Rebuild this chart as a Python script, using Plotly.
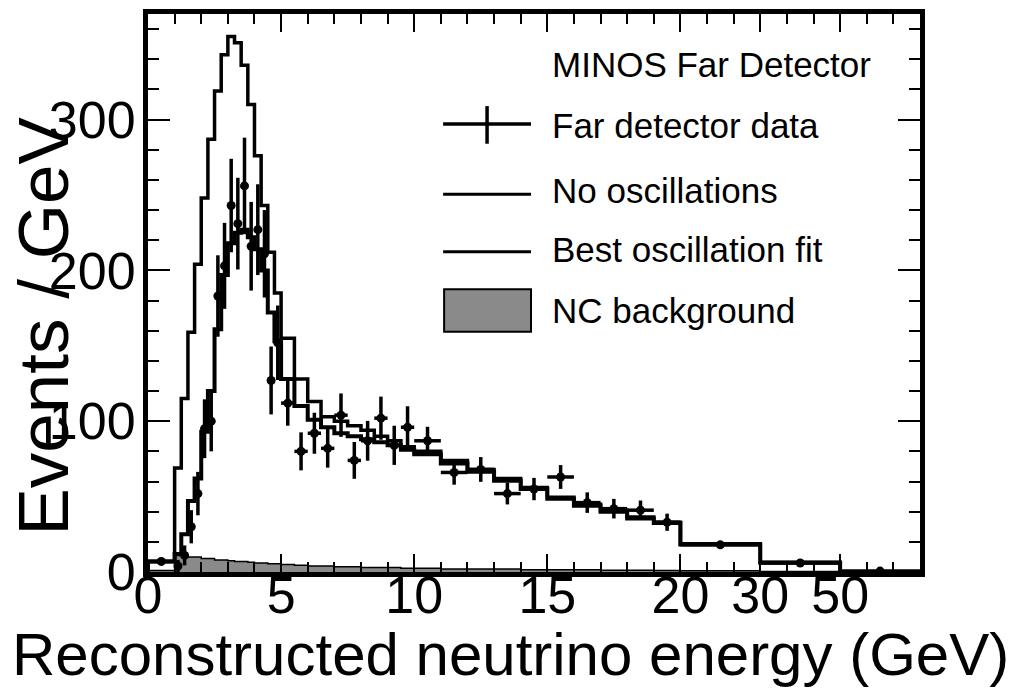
import numpy as np
import plotly.graph_objects as go

# ---------------- data ----------------
# histogram bin edges in GeV
bin_edges = [0.0, 1.0,
             1.25, 1.5, 1.75, 2.0, 2.25, 2.5, 2.75, 3.0, 3.25, 3.5, 3.75, 4.0,
             4.25, 4.5, 4.75, 5.0,
             5.5, 6.0, 6.5, 7.0, 7.5, 8.0, 8.5, 9.0, 9.5, 10.0,
             11.0, 12.0, 13.0, 14.0, 15.0, 16.0, 17.0, 18.0, 19.0, 20.0,
             30.0, 50.0]

# expected spectrum, no oscillations (events / GeV)
no_osc = [7, 69, 115, 159, 204, 248, 287, 319, 343, 355, 351, 336, 310,
          276, 243, 212, 185,
          155, 128, 113, 103, 100, 97, 94, 90, 87, 83,
          80, 74, 68, 62, 56, 49.5, 45, 41, 36.5, 33,
          18.7, 6.4]

# best oscillation fit (events / GeV)
best_fit = [7, 12, 25, 47, 62, 93, 120, 161, 197, 218, 225, 227, 222,
            214, 200, 172, 153,
            128, 110, 101, 96, 92, 90, 88, 86, 84, 81,
            78, 72, 66.5, 60.5, 55, 48.5, 44, 40, 35.5, 32.5,
            18.2, 6.2]

# NC background (events / GeV)
nc_background = [1, 11, 11, 10, 10, 9, 9, 8, 8, 7.5, 7, 7, 6.5,
                 6, 6, 5.5, 5.5,
                 5, 4.5, 4, 4, 3.5, 3.5, 3, 3, 3, 2.5,
                 2.5, 2, 2, 2, 1.5, 1.5, 1.5, 1.2, 1.2, 1.0,
                 0.8, 0.4]

# far detector data: bins (GeV) incl. overflow, values and errors (events / GeV)
data_lo = bin_edges[:-1] + [50.0]
data_hi = bin_edges[1:] + [100.0]
data_val = [7, 4, 11, 30, 52, 95, 100, 183, 203, 243, 231, 256, 216,
            227, 211, 127, 152,
            112, 80, 92, 82, 104, 74, 87, 102, 84, 96,
            87, 66, 68, 52, 55, 63, 46, 42, 41, 33,
            18, 6, 0.6]
data_err = [2.6, 4, 6.6, 11, 14.4, 19.5, 20, 27, 28.5, 31, 30.4, 32, 29.4,
            30.1, 29, 22.5, 24.7,
            15, 12.6, 13.6, 12.8, 14.4, 12.2, 13.2, 14.3, 13, 13.9,
            9.3, 8.1, 8.2, 7.2, 7.4, 7.9, 6.8, 6.5, 6.4, 5.7,
            1.3, 0.55, 0]

# axis: linear to 20 GeV, then compressed segments
axis_knots_gev = [0, 20, 30, 50, 100]
axis_knots_pos = [0, 20, 23, 26, 29]
tick_labels = ["0", "5", "10", "15", "20", "30", "50"]
tick_gev = [0, 5, 10, 15, 20, 30, 50]
y_tick_vals = [0, 100, 200, 300]


def to_axis(e):
    return np.interp(np.asarray(e, dtype=float), axis_knots_gev, axis_knots_pos)


FONT = "Liberation Sans, Arial, Helvetica, sans-serif"

edges_ax = to_axis(bin_edges)


def step_xy(values):
    xs = np.concatenate([[edges_ax[0]], edges_ax])
    ys = np.concatenate([[0.0], np.asarray(values, float), [0.0]])
    return xs, ys


fig = go.Figure()

# NC background (shaded)
xs, ys = step_xy(nc_background)
fig.add_trace(go.Scatter(x=xs, y=ys, mode="lines", line_shape="hv",
                         line=dict(color="black", width=1.5),
                         fill="tozeroy", fillcolor="#8a8a8a",
                         name="NC background", showlegend=False,
                         hoverinfo="skip"))

# No oscillations
xs, ys = step_xy(no_osc)
fig.add_trace(go.Scatter(x=xs, y=ys, mode="lines", line_shape="hv",
                         line=dict(color="black", width=3.5),
                         name="No oscillations", showlegend=False))

# Best oscillation fit
xs, ys = step_xy(best_fit)
fig.add_trace(go.Scatter(x=xs, y=ys, mode="lines", line_shape="hv",
                         line=dict(color="black", width=4),
                         name="Best oscillation fit", showlegend=False))

# data
lo_ax = to_axis(data_lo)
hi_ax = to_axis(data_hi)
fig.add_trace(go.Scatter(
    x=(lo_ax + hi_ax) / 2, y=data_val, mode="markers",
    marker=dict(color="black", size=9, symbol="circle"),
    error_y=dict(type="data", array=data_err, color="black", thickness=3.5, width=0),
    error_x=dict(type="data", array=(hi_ax - lo_ax) / 2, color="black", thickness=3.5, width=0),
    name="Far detector data", showlegend=False))

fig.update_xaxes(
    range=[0, 29], showgrid=False, zeroline=False,
    showline=True, linecolor="black", linewidth=5, mirror="allticks",
    ticks="inside", ticklen=18, tickwidth=2, tickcolor="black",
    tickmode="array", tickvals=to_axis(tick_gev), ticktext=tick_labels,
    tickfont=dict(family=FONT, size=52, color="black"),
    ticklabelstandoff=-26,
    minor=dict(ticks="inside", ticklen=10, tickwidth=2, tickcolor="black",
               dtick=1, tick0=0, showgrid=False),
)
fig.update_yaxes(
    range=[0, 370], showgrid=False, zeroline=False,
    showline=True, linecolor="black", linewidth=5, mirror="allticks",
    ticks="inside", ticklen=22, tickwidth=2, tickcolor="black",
    tickmode="array", tickvals=y_tick_vals, ticktext=[str(v) for v in y_tick_vals],
    tickfont=dict(family=FONT, size=52, color="black"),
    ticklabelstandoff=-3,
    minor=dict(ticks="inside", ticklen=11, tickwidth=2, tickcolor="black",
               dtick=20, tick0=0, showgrid=False),
)

# page-pixel helpers for titles and legend (layout decoration only)
L, R, T, B = 147.5, 920.5, 9.0, 572.5


def xp(px):
    return (px - L) / (R - L)


def yp(py):
    return (B - py) / (B - T)


annotations = [
    dict(text="Reconstructed neutrino energy (GeV)", x=xp(510), y=yp(656),
         xref="paper", yref="paper", showarrow=False, xanchor="center", yanchor="middle",
         font=dict(family=FONT, size=60, color="black")),
    dict(text="Events / GeV", x=xp(43), y=yp(324),
         xref="paper", yref="paper", showarrow=False, xanchor="center", yanchor="middle",
         textangle=-90, font=dict(family=FONT, size=71, color="black")),
]

legend_rows = [("MINOS Far Detector", 60), ("Far detector data", 122),
               ("No oscillations", 187), ("Best oscillation fit", 247),
               ("NC background", 308)]
for txt, py in legend_rows:
    annotations.append(dict(text=txt, x=xp(550), y=yp(py), xref="paper", yref="paper",
                            showarrow=False, xanchor="left", yanchor="middle",
                            font=dict(family=FONT, size=35, color="black")))

shapes = [
    # data sample: horizontal line + vertical error bar
    dict(type="line", xref="paper", yref="paper", x0=xp(443), x1=xp(531), y0=yp(120), y1=yp(120),
         line=dict(color="black", width=3.5)),
    dict(type="line", xref="paper", yref="paper", x0=xp(487), x1=xp(487), y0=yp(102), y1=yp(140),
         line=dict(color="black", width=3.5)),
    dict(type="line", xref="paper", yref="paper", x0=xp(443), x1=xp(531), y0=yp(191), y1=yp(191),
         line=dict(color="black", width=3)),
    dict(type="line", xref="paper", yref="paper", x0=xp(443), x1=xp(531), y0=yp(249), y1=yp(249),
         line=dict(color="black", width=3)),
    dict(type="rect", xref="paper", yref="paper", x0=xp(444), x1=xp(531), y0=yp(287), y1=yp(330),
         fillcolor="#8a8a8a", line=dict(color="black", width=2)),
]

fig.update_layout(
    width=1021, height=689,
    margin=dict(l=L, r=1021 - R, t=T, b=689 - B, pad=0),
    paper_bgcolor="white", plot_bgcolor="white",
    font=dict(family=FONT, color="black"),
    showlegend=False,
    annotations=annotations,
    shapes=shapes,
)

fig.write_html("out.html",
               config={"displayModeBar": False, "staticPlot": True},
               post_script="document.body.style.margin='0';document.body.style.padding='0';")
